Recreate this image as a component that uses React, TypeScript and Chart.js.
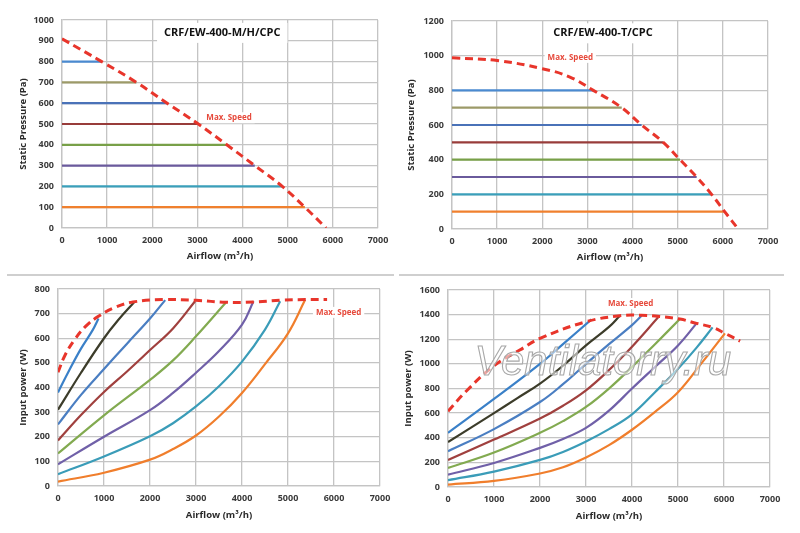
import { useEffect, useRef } from "react";
import { Chart, registerables } from "chart.js";
import type { ChartConfiguration, Plugin } from "chart.js";

Chart.register(...registerables);

const FONT = "'Open Sans', 'Liberation Sans', sans-serif";
const RED = "#e8352b";
const GRID = "#c4c4c4";

const COLORS_TOP = ["#4a8ad0", "#9c9a68", "#4a72b8", "#983c3a", "#78a048", "#6a5a9c", "#3a9fba", "#f0802e"];
const COLORS_BOTTOM = ["#3a80c8", "#3c3c2a", "#4a7ec2", "#a0403e", "#82aa50", "#7060a8", "#3a9cb8", "#f07e2c"];

// --- CRF/EW-400-M/H/CPC : static pressure
const LEVELS_MH = [800, 700, 600, 500, 400, 300, 200, 100];
const ENDS_MH = [880, 1650, 2330, 3020, 3650, 4270, 4880, 5380];
const MAX_MH_X = [0, 880, 1650, 2330, 3020, 3650, 4270, 4880, 5380, 5850];
const MAX_MH_Y = [910, 800, 700, 600, 500, 400, 300, 200, 100, 0];

// --- CRF/EW-400-T/CPC : static pressure
const LEVELS_T = [800, 700, 600, 500, 400, 300, 200, 100];
const ENDS_T = [3130, 3760, 4200, 4680, 5050, 5420, 5750, 6040];
const MAX_T_X = [0, 1000, 2000, 2600, 3130, 3760, 4200, 4680, 5050, 5420, 5750, 6040, 6340];
const MAX_T_Y = [988, 972, 925, 878, 800, 700, 600, 500, 400, 300, 200, 100, 0];

// --- M/H : input power curves [airflow, W]
const POW_MH_1 = [[0, 380], [250, 472], [500, 558], [750, 632], [880, 680]];
const POW_MH_2 = [[0, 310], [500, 460], [1000, 600], [1300, 672], [1650, 745]];
const POW_MH_3 = [[0, 250], [500, 370], [1000, 475], [1500, 578], [2000, 680], [2330, 755]];
const POW_MH_4 = [[0, 185], [500, 288], [1000, 382], [1500, 465], [2000, 552], [2500, 640], [2980, 750]];
const POW_MH_5 = [[0, 132], [1000, 287], [2000, 431], [2500, 510], [3000, 608], [3650, 745]];
const POW_MH_6 = [[0, 88], [1000, 200], [2000, 308], [2500, 378], [3000, 460], [3500, 548], [4000, 655], [4250, 750]];
const POW_MH_7 = [[0, 48], [1000, 120], [2000, 202], [2500, 255], [3000, 323], [3500, 405], [4000, 505], [4500, 635], [4830, 750]];
const POW_MH_8 = [[0, 18], [1000, 54], [2000, 107], [2500, 150], [3000, 205], [3500, 282], [4000, 378], [4500, 495], [5000, 620], [5370, 755]];
const POW_MH_MAX = [[0, 462], [150, 530], [360, 594], [600, 648], [870, 688], [1200, 722], [1630, 747], [2300, 757], [3000, 754], [3650, 746], [4250, 747], [4850, 755], [5370, 757], [5850, 757]];

// --- T : input power curves [airflow, W]
const POW_T_1 = [[0, 440], [1000, 715], [2000, 1000], [2500, 1160], [3120, 1362]];
const POW_T_2 = [[0, 365], [1000, 600], [1500, 720], [2000, 840], [2500, 985], [3000, 1150], [3500, 1300], [3736, 1391]];
const POW_T_3 = [[0, 290], [1000, 470], [2000, 690], [2500, 835], [3000, 1000], [3500, 1160], [4000, 1315], [4207, 1391]];
const POW_T_4 = [[0, 220], [1000, 385], [2000, 556], [2500, 660], [3000, 785], [3500, 950], [4000, 1140], [4569, 1378]];
const POW_T_5 = [[0, 155], [1000, 280], [2000, 440], [2500, 535], [3000, 650], [3500, 800], [4000, 975], [4500, 1160], [5041, 1364]];
const POW_T_6 = [[0, 100], [1000, 195], [2000, 318], [2500, 390], [3000, 480], [3500, 620], [4000, 800], [4500, 975], [5000, 1150], [5404, 1329]];
const POW_T_7 = [[0, 55], [1000, 125], [2000, 220], [2500, 285], [3000, 370], [3500, 470], [4000, 590], [4500, 770], [5000, 960], [5400, 1130], [5752, 1296]];
const POW_T_8 = [[0, 20], [1000, 50], [2000, 110], [2500, 160], [3000, 240], [3500, 340], [4000, 465], [4500, 610], [5000, 770], [5500, 1000], [6020, 1248]];
const POW_T_MAX = [[0, 616], [400, 780], [1000, 985], [1560, 1112], [2000, 1207], [3000, 1342], [3736, 1391], [4200, 1395], [4600, 1385], [5041, 1364], [5404, 1329], [5752, 1296], [6020, 1248], [6350, 1185]];

type Note = {
  x: number;
  y: number;
  text: string;
  font: string;
  color: string;
  pad?: number;
  h?: number;
  outline?: boolean;
};

const notesPlugin = (notes: Note[]): Plugin<"line"> => ({
  id: "notes",
  afterDatasetsDraw(chart) {
    const { ctx, scales } = chart;
    notes.forEach((n) => {
      const px = scales.x.getPixelForValue(n.x);
      const py = scales.y.getPixelForValue(n.y);
      ctx.save();
      ctx.font = n.font;
      ctx.textAlign = "center";
      ctx.textBaseline = "middle";
      const w = ctx.measureText(n.text).width;
      if (n.pad !== undefined) {
        ctx.fillStyle = "#ffffff";
        ctx.fillRect(px - w / 2 - n.pad, py - (n.h || 12) / 2, w + n.pad * 2, n.h || 12);
      }
      if (n.outline) {
        ctx.fillStyle = "rgba(255,255,255,0.55)";
        ctx.fillText(n.text, px, py);
        ctx.strokeStyle = n.color;
        ctx.lineWidth = 1.1;
        ctx.strokeText(n.text, px, py);
      } else {
        ctx.fillStyle = n.color;
        ctx.fillText(n.text, px, py);
      }
      ctx.restore();
    });
  },
});

const toPts = (xs: number[], ys: number[]) => xs.map((x, i) => ({ x, y: ys[i] }));
const pairPts = (pairs: number[][]) => pairs.map(([x, y]) => ({ x, y }));

const maxSpeedSet = (data: { x: number; y: number }[]) => ({
  data,
  borderColor: RED,
  borderWidth: 3,
  borderDash: [8, 5],
  pointRadius: 0,
  tension: 0.4,
});

const levelSets = (levels: number[], ends: number[]) =>
  levels.map((lv, i) => ({
    data: [{ x: 0, y: lv }, { x: ends[i], y: lv }],
    borderColor: COLORS_TOP[i],
    borderWidth: 2.2,
    pointRadius: 0,
  }));

const curveSets = (curves: number[][][]) =>
  curves.map((c, i) => ({
    data: pairPts(c),
    borderColor: COLORS_BOTTOM[i],
    borderWidth: 2.2,
    pointRadius: 0,
    tension: 0.4,
  }));

type PanelOpts = {
  datasets: any[];
  yMax: number;
  yStep: number;
  yTitle: string;
  padding: { left: number; right: number; top: number };
  yWidth: number;
  xHeight: number;
  yTitlePad: number;
  xTitlePad: number;
  notes: Note[];
};

function buildConfig(p: PanelOpts): ChartConfiguration<"line"> {
  const tickFont = { family: FONT, size: 9, weight: "bold" as const };
  const titleFont = { family: FONT, size: 9.5, weight: "bold" as const };
  return {
    type: "line",
    data: { datasets: p.datasets },
    options: {
      responsive: true,
      maintainAspectRatio: false,
      animation: false,
      layout: { padding: { ...p.padding, bottom: 0 } },
      plugins: { legend: { display: false }, tooltip: { enabled: false } },
      scales: {
        x: {
          type: "linear",
          min: 0,
          max: 7000,
          ticks: { stepSize: 1000, padding: 7, color: "#3a3a3a", font: tickFont, callback: (v) => String(v) },
          grid: { color: GRID, lineWidth: 1.3, drawTicks: false },
          border: { color: GRID, width: 1.3 },
          title: { display: true, text: "Airflow (m³/h)", color: "#2a2a2a", font: titleFont, padding: { top: 0, bottom: p.xTitlePad } },
          afterFit: (s) => {
            s.height = p.xHeight;
          },
        },
        y: {
          type: "linear",
          min: 0,
          max: p.yMax,
          ticks: { stepSize: p.yStep, padding: 8, color: "#3a3a3a", font: tickFont, callback: (v) => String(v) },
          grid: { color: GRID, lineWidth: 1.3, drawTicks: false },
          border: { color: GRID, width: 1.3 },
          title: { display: true, text: p.yTitle, color: "#2a2a2a", font: titleFont, padding: { top: p.yTitlePad, bottom: 0 } },
          afterFit: (s) => {
            s.width = p.yWidth;
          },
        },
      },
    },
    plugins: [notesPlugin(p.notes)],
  };
}

const TITLE_FONT = `bold 11px ${FONT}`;
const LABEL_FONT = `bold 8px ${FONT}`;
const LABEL_RED = "#e64a3c";

const PANELS: { left: number; top: number; width: number; height: number; opts: PanelOpts }[] = [
  {
    left: 0,
    top: 0,
    width: 400,
    height: 266,
    opts: {
      datasets: [maxSpeedSet(toPts(MAX_MH_X, MAX_MH_Y)), ...levelSets(LEVELS_MH, ENDS_MH)],
      yMax: 1000,
      yStep: 100,
      yTitle: "Static Pressure (Pa)",
      padding: { left: 16, right: 22, top: 20 },
      yWidth: 46,
      xHeight: 38,
      yTitlePad: 2,
      xTitlePad: 4,
      notes: [
        { x: 3550, y: 938, text: "CRF/EW-400-M/H/CPC", font: TITLE_FONT, color: "#111", pad: 7, h: 20 },
        { x: 3700, y: 530, text: "Max. Speed", font: LABEL_FONT, color: LABEL_RED, pad: 3, h: 11 },
      ],
    },
  },
  {
    left: 400,
    top: 0,
    width: 400,
    height: 266,
    opts: {
      datasets: [maxSpeedSet(toPts(MAX_T_X, MAX_T_Y)), ...levelSets(LEVELS_T, ENDS_T)],
      yMax: 1200,
      yStep: 200,
      yTitle: "Static Pressure (Pa)",
      padding: { left: 4, right: 32, top: 21 },
      yWidth: 48,
      xHeight: 37,
      yTitlePad: 2,
      xTitlePad: 3,
      notes: [
        { x: 3345, y: 1129, text: "CRF/EW-400-T/CPC", font: TITLE_FONT, color: "#111", pad: 7, h: 20 },
        { x: 2620, y: 990, text: "Max. Speed", font: LABEL_FONT, color: LABEL_RED, pad: 3, h: 11 },
      ],
    },
  },
  {
    left: 0,
    top: 266,
    width: 400,
    height: 267,
    opts: {
      datasets: [
        maxSpeedSet(pairPts(POW_MH_MAX)),
        ...curveSets([POW_MH_1, POW_MH_2, POW_MH_3, POW_MH_4, POW_MH_5, POW_MH_6, POW_MH_7, POW_MH_8]),
      ],
      yMax: 800,
      yStep: 100,
      yTitle: "Input power (W)",
      padding: { left: 16, right: 20, top: 23 },
      yWidth: 42,
      xHeight: 47,
      yTitlePad: 2,
      xTitlePad: 12,
      notes: [{ x: 6100, y: 705, text: "Max. Speed", font: LABEL_FONT, color: LABEL_RED, pad: 3, h: 11 }],
    },
  },
  {
    left: 400,
    top: 266,
    width: 400,
    height: 267,
    opts: {
      datasets: [
        maxSpeedSet(pairPts(POW_T_MAX)),
        ...curveSets([POW_T_1, POW_T_2, POW_T_3, POW_T_4, POW_T_5, POW_T_6, POW_T_7, POW_T_8]),
      ],
      yMax: 1600,
      yStep: 200,
      yTitle: "Input power (W)",
      padding: { left: 0, right: 30, top: 24 },
      yWidth: 48,
      xHeight: 46,
      yTitlePad: 3,
      xTitlePad: 11,
      notes: [
        { x: 3970, y: 1490, text: "Max. Speed", font: LABEL_FONT, color: LABEL_RED, pad: 3, h: 11 },
        { x: 3366, y: 1006, text: "Ventilatorry.ru", font: "italic 42px 'Liberation Sans', sans-serif", color: "#a8a8a8", outline: true },
      ],
    },
  },
];

function Panel({ opts, style }: { opts: PanelOpts; style: React.CSSProperties }) {
  const canvasRef = useRef<HTMLCanvasElement | null>(null);
  const chartRef = useRef<Chart<"line"> | null>(null);

  useEffect(() => {
    const ctx = canvasRef.current!.getContext("2d")!;
    chartRef.current = new Chart(ctx, buildConfig(opts));
    return () => chartRef.current?.destroy();
  }, [opts]);

  return (
    <div style={{ position: "absolute", ...style }}>
      <canvas ref={canvasRef} />
    </div>
  );
}

export default function App() {
  return (
    <div style={{ position: "absolute", left: 0, top: 0, width: 800, height: 533, background: "#fff", overflow: "hidden" }}>
      {PANELS.map((p, i) => (
        <Panel key={i} opts={p.opts} style={{ left: p.left, top: p.top, width: p.width, height: p.height }} />
      ))}
      <div style={{ position: "absolute", left: 7, top: 274, width: 387, height: 2, background: "#cfcfcf" }} />
      <div style={{ position: "absolute", left: 399, top: 274, width: 385, height: 2, background: "#cfcfcf" }} />
    </div>
  );
}
